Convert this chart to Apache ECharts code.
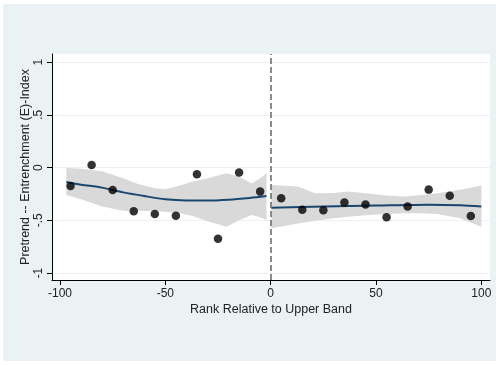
<!DOCTYPE html>
<html>
<head>
<meta charset="utf-8">
<script src="https://cdn.jsdelivr.net/npm/echarts@6/dist/echarts.min.js"></script>
<style>
html,body{margin:0;padding:0;background:#fff;}
#c{width:496px;height:365px;}
</style>
</head>
<body>
<div id="c"></div>
<script>
// ---- data ----
var binX = [-95,-85,-75,-65,-55,-45,-35,-25,-15,-5,5,15,25,35,45,55,65,75,85,95];
var binY = [-0.174,0.025,-0.212,-0.415,-0.44,-0.456,-0.063,-0.675,-0.047,-0.228,-0.29,-0.40,-0.405,-0.33,-0.35,-0.472,-0.37,-0.209,-0.266,-0.46];

var leftFitX = [-97,-90,-80,-70,-60,-50,-40,-30,-20,-10,-2];
var leftFitY = [-0.137,-0.162,-0.19,-0.235,-0.27,-0.30,-0.312,-0.313,-0.305,-0.288,-0.27];
var rightFitX = [0.3,25,50,75,90,100];
var rightFitY = [-0.38,-0.37,-0.36,-0.352,-0.358,-0.37];

var leftBandX = [-97,-90,-80,-70,-63,-55,-50,-43,-37,-30,-21,-15,-9,-5,-2];
var leftBandUpper = [-0.005,-0.01,-0.035,-0.10,-0.155,-0.195,-0.205,-0.17,-0.133,-0.10,-0.053,-0.085,-0.15,-0.10,-0.053];
var leftBandLower = [-0.26,-0.30,-0.37,-0.41,-0.41,-0.415,-0.418,-0.433,-0.46,-0.51,-0.56,-0.50,-0.45,-0.47,-0.497];

var rightBandX = [0.3,13,21,30,37,45,55,63,72,79,90,100];
var rightBandUpper = [-0.165,-0.18,-0.244,-0.24,-0.228,-0.244,-0.265,-0.275,-0.26,-0.244,-0.21,-0.17];
var rightBandLower = [-0.576,-0.53,-0.505,-0.48,-0.466,-0.452,-0.44,-0.433,-0.433,-0.44,-0.48,-0.56];

var xTicks = [-100,-50,0,50,100];
var yTicks = [-1,-0.5,0,0.5,1];
var yTickLabels = ['-1','-.5','0','.5','1'];
var cutoff = 0;

var xTitle = 'Rank Relative to Upper Band';
var yTitle = 'Pretrend -- Entrenchment (E)-Index';

// ---- chart ----
function zip(a,b){ return a.map(function(v,i){ return [v,b[i]]; }); }

function bandSeries(xs, up, lo){
  return {
    type:'custom',
    silent:true,
    z:1,
    data:[[xs[0], up[0]]],
    renderItem:function(params, api){
      var pts = [];
      for (var i=0;i<xs.length;i++) pts.push(api.coord([xs[i], up[i]]));
      for (var j=xs.length-1;j>=0;j--) pts.push(api.coord([xs[j], lo[j]]));
      return {type:'polygon', shape:{points:pts}, style:{fill:'#d9d9d9', stroke:null}};
    }
  };
}

var font = 'Liberation Sans, Arial, Helvetica, sans-serif';
var chart = echarts.init(document.getElementById('c'), null, {renderer:'canvas'});
chart.setOption({
  animation:false,
  backgroundColor:'#ffffff',
  textStyle:{fontFamily:font},
  graphic:[{type:'rect', z:-10, silent:true, shape:{x:3,y:4,width:493,height:357}, style:{fill:'#eaf2f3'}}],
  grid:{left:52, top:54, width:438, height:226, show:true, backgroundColor:'#ffffff', borderWidth:0, containLabel:false},
  xAxis:{
    type:'value', min:-103.8, max:104.1,
    name:xTitle, nameLocation:'middle', nameGap:23, nameMoveOverlap:false,
    nameTextStyle:{fontSize:12.5, color:'#222', fontFamily:font},
    axisLine:{show:true, onZero:false, lineStyle:{color:'#000', width:1}},
    axisTick:{show:true, length:5, customValues:xTicks, lineStyle:{color:'#000'}},
    axisLabel:{customValues:xTicks, fontSize:12, color:'#222', margin:8, fontFamily:font},
    splitLine:{show:false}
  },
  yAxis:{
    type:'value', min:-1.066, max:1.077,
    name:yTitle, nameLocation:'middle', nameGap:20, nameRotate:90, nameMoveOverlap:false,
    nameTextStyle:{fontSize:12.5, color:'#222', fontFamily:font},
    axisLine:{show:true, onZero:false, lineStyle:{color:'#000', width:1}},
    axisTick:{show:true, length:5, customValues:yTicks, lineStyle:{color:'#000'}},
    axisLabel:{customValues:yTicks, rotate:90, fontSize:12, color:'#222', margin:7, fontFamily:font,
      formatter:function(v){ var k = yTicks.indexOf(v); return k>=0 ? yTickLabels[k] : ''; }},
    splitLine:{show:true, lineStyle:{color:'#eaf2f3', width:1}}
  },
  series:[
    bandSeries(leftBandX, leftBandUpper, leftBandLower),
    bandSeries(rightBandX, rightBandUpper, rightBandLower),
    {type:'line', z:3, data:zip(leftFitX,leftFitY), smooth:0.3, showSymbol:false, symbol:'none',
      lineStyle:{color:'#1a476f', width:2}},
    {type:'line', z:3, data:zip(rightFitX,rightFitY), smooth:0.3, showSymbol:false, symbol:'none',
      lineStyle:{color:'#1a476f', width:2},
      markLine:{silent:true, symbol:'none', label:{show:false},
        lineStyle:{color:'#666', type:[6,3], width:1.5},
        data:[{xAxis:cutoff}]}},
    {type:'scatter', z:4, data:zip(binX,binY), symbol:'circle', symbolSize:8.5,
      itemStyle:{color:'#000'}}
  ]
});
</script>
</body>
</html>
